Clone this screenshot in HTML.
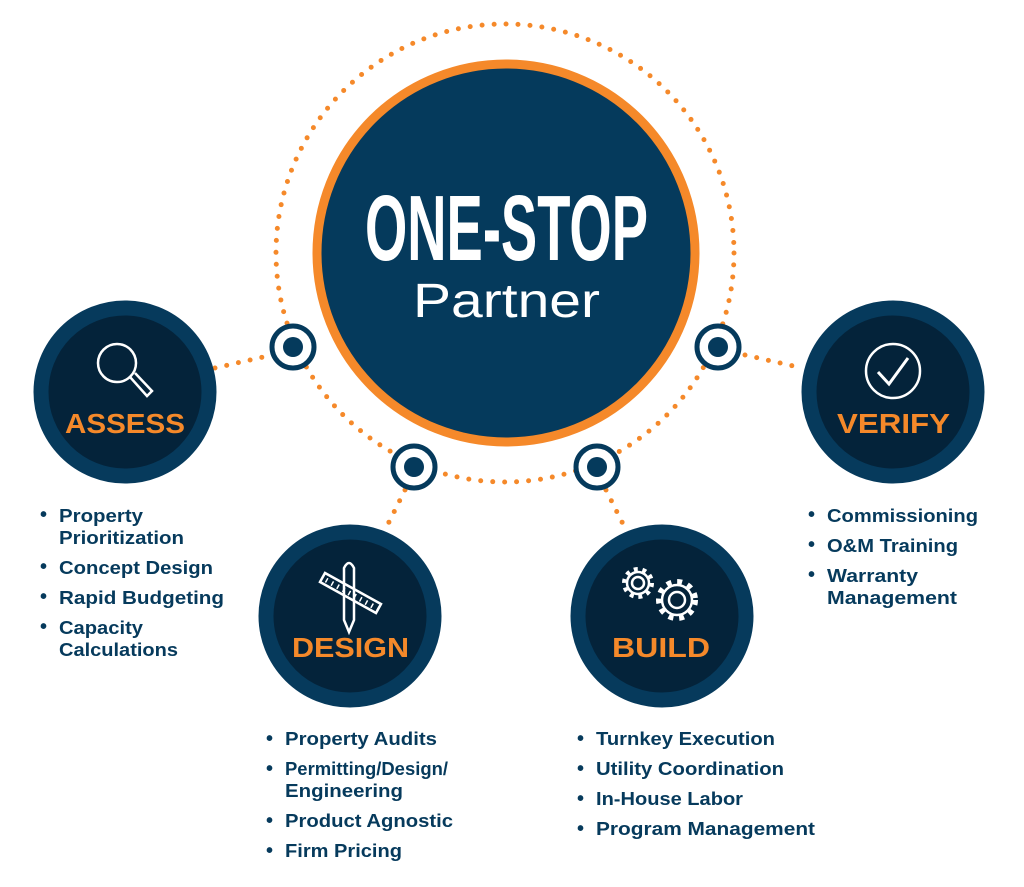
<!DOCTYPE html>
<html><head><meta charset="utf-8"><style>
html,body{margin:0;padding:0;background:#fff;width:1024px;height:887px;overflow:hidden}
</style></head><body>
<svg width="1024" height="887" viewBox="0 0 1024 887" xmlns="http://www.w3.org/2000/svg">
<g stroke="#f5892a" stroke-width="5" stroke-linecap="round" fill="none" stroke-dasharray="0 12">
  <circle cx="505" cy="253" r="229"/>
  <line x1="215" y1="368" x2="272" y2="355"/>
  <line x1="745" y1="355" x2="802" y2="368"/>
  <line x1="405" y1="490" x2="386" y2="528"/>
  <line x1="606" y1="490" x2="626" y2="530"/>
</g>
<circle cx="506" cy="253" r="189" fill="#053a5c" stroke="#f5892a" stroke-width="9"/>
<text x="365" y="260" textLength="283" lengthAdjust="spacingAndGlyphs" font-family="Liberation Sans Narrow, Liberation Sans, sans-serif" font-weight="bold" font-size="93" fill="#fff">ONE-STOP</text>
<text x="413" y="317" textLength="187" lengthAdjust="spacingAndGlyphs" font-family="Liberation Sans, sans-serif" font-size="48" fill="#fff">Partner</text>
<g fill="#fff" stroke="#053a5c" stroke-width="5">
  <circle cx="293" cy="347" r="21"/><circle cx="718" cy="347" r="21"/>
  <circle cx="414" cy="467" r="21"/><circle cx="597" cy="467" r="21"/>
</g>
<g fill="#053a5c">
  <circle cx="293" cy="347" r="10"/><circle cx="718" cy="347" r="10"/>
  <circle cx="414" cy="467" r="10"/><circle cx="597" cy="467" r="10"/>
</g>
<g fill="#04233a" stroke="#063a5c" stroke-width="15">
  <circle cx="125" cy="392" r="84"/><circle cx="893" cy="392" r="84"/>
  <circle cx="350" cy="616" r="84"/><circle cx="662" cy="616" r="84"/>
</g>
<g font-family="Liberation Sans, sans-serif" font-weight="bold" font-size="28" fill="#f5892a">
  <text x="65" y="433" textLength="120" lengthAdjust="spacingAndGlyphs">ASSESS</text>
  <text x="837" y="433" textLength="113" lengthAdjust="spacingAndGlyphs">VERIFY</text>
  <text x="292" y="657" textLength="117" lengthAdjust="spacingAndGlyphs">DESIGN</text>
  <text x="612" y="657" textLength="98" lengthAdjust="spacingAndGlyphs">BUILD</text>
</g>
<g stroke="#fff" stroke-width="2.5" fill="none">
  <circle cx="117" cy="363" r="19"/>
  <path d="M130 377 L147 396 L152 391 L135 373"/>
  <circle cx="893" cy="371" r="27"/>
  <path d="M878 372 L889 384 L908 358" stroke-width="3"/>
  <path d="M344 568 Q349 558 354 568 L354 620 L349 632 L344 620 Z"/>
  <path d="M320 582 L325 573 L381 604 L376 613 Z"/>
  <g stroke-dasharray="1.5 5"><path d="M326 580 L378 609" stroke-width="5"/></g>
  <circle cx="638" cy="583" r="6"/>
  <circle cx="638" cy="583" r="11"/>
  <circle cx="638" cy="583" r="14" stroke-width="4" stroke-dasharray="4 4.8"/>
  <circle cx="677" cy="600" r="8"/>
  <circle cx="677" cy="600" r="15"/>
  <circle cx="677" cy="600" r="18.5" stroke-width="5" stroke-dasharray="5 5.9"/>
</g>
<g font-family="Liberation Sans, sans-serif" font-weight="bold" font-size="18" fill="#063a5c">
  <g font-size="20"><text x="40" y="521">•</text><text x="40" y="573">•</text><text x="40" y="603">•</text><text x="40" y="633">•</text>
  <text x="808" y="521">•</text><text x="808" y="551">•</text><text x="808" y="581">•</text>
  <text x="266" y="745">•</text><text x="266" y="775">•</text><text x="266" y="827">•</text><text x="266" y="857">•</text>
  <text x="577" y="745">•</text><text x="577" y="775">•</text><text x="577" y="805">•</text><text x="577" y="835">•</text></g>
  <text x="59" y="522" textLength="84" lengthAdjust="spacingAndGlyphs">Property</text>
  <text x="59" y="544" textLength="125" lengthAdjust="spacingAndGlyphs">Prioritization</text>
  <text x="59" y="574" textLength="154" lengthAdjust="spacingAndGlyphs">Concept Design</text>
  <text x="59" y="604" textLength="165" lengthAdjust="spacingAndGlyphs">Rapid Budgeting</text>
  <text x="59" y="634" textLength="84" lengthAdjust="spacingAndGlyphs">Capacity</text>
  <text x="59" y="656" textLength="119" lengthAdjust="spacingAndGlyphs">Calculations</text>
  <text x="827" y="522" textLength="151" lengthAdjust="spacingAndGlyphs">Commissioning</text>
  <text x="827" y="552" textLength="131" lengthAdjust="spacingAndGlyphs">O&amp;M Training</text>
  <text x="827" y="582" textLength="91" lengthAdjust="spacingAndGlyphs">Warranty</text>
  <text x="827" y="604" textLength="130" lengthAdjust="spacingAndGlyphs">Management</text>
  <text x="285" y="745" textLength="152" lengthAdjust="spacingAndGlyphs">Property Audits</text>
  <text x="285" y="775" textLength="163" lengthAdjust="spacingAndGlyphs">Permitting/Design/</text>
  <text x="285" y="797" textLength="118" lengthAdjust="spacingAndGlyphs">Engineering</text>
  <text x="285" y="827" textLength="168" lengthAdjust="spacingAndGlyphs">Product Agnostic</text>
  <text x="285" y="857" textLength="117" lengthAdjust="spacingAndGlyphs">Firm Pricing</text>
  <text x="596" y="745" textLength="179" lengthAdjust="spacingAndGlyphs">Turnkey Execution</text>
  <text x="596" y="775" textLength="188" lengthAdjust="spacingAndGlyphs">Utility Coordination</text>
  <text x="596" y="805" textLength="147" lengthAdjust="spacingAndGlyphs">In-House Labor</text>
  <text x="596" y="835" textLength="219" lengthAdjust="spacingAndGlyphs">Program Management</text>
</g>
</svg>
</body></html>
